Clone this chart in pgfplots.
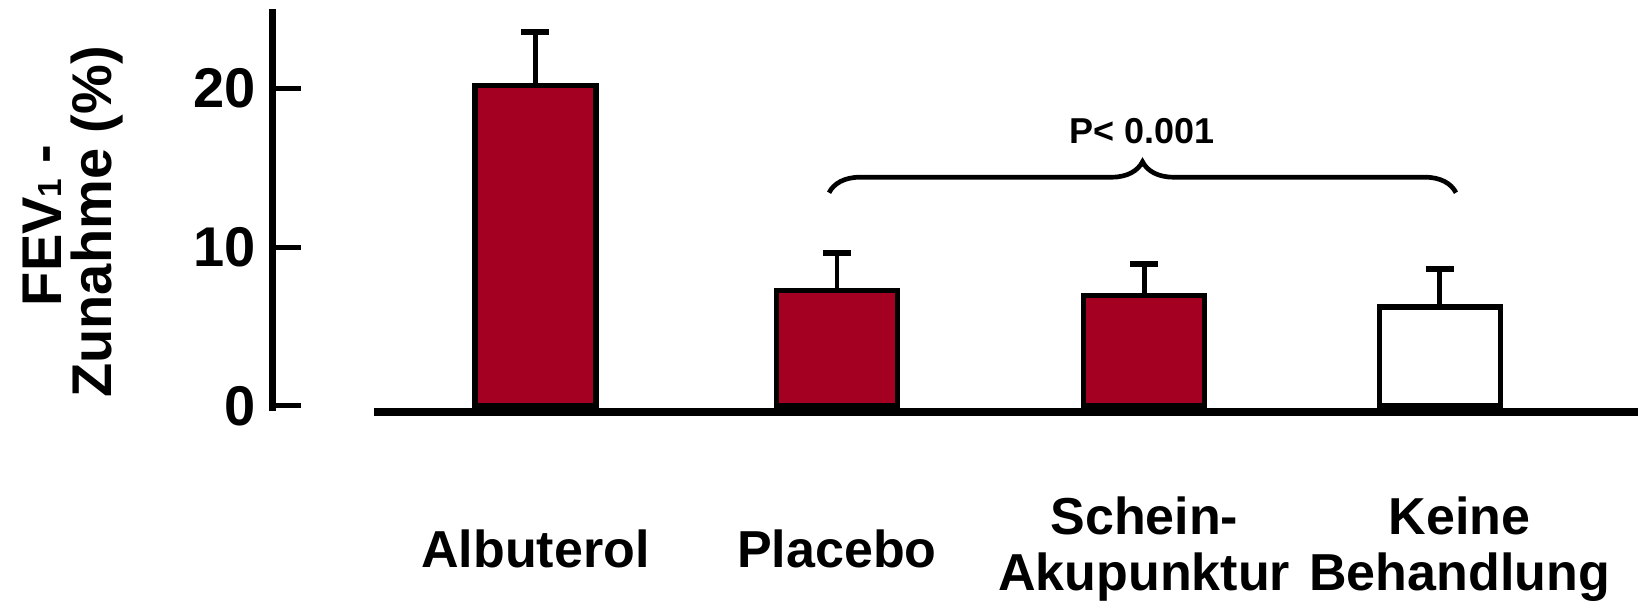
\documentclass[border=0pt]{standalone}
\usepackage{pgfplots}
\pgfplotsset{compat=1.18}
\usepackage{fontspec}
\setmainfont{Liberation Sans}
\usetikzlibrary{decorations.pathreplacing}

\definecolor{barred}{HTML}{A40021}

\begin{document}
\begin{tikzpicture}
  \begin{axis}[
    at={(0,0)}, anchor=south west,
    scale only axis,
    width=409.6pt, height=120.4pt,
    clip=false,
    xmin=-0.872, xmax=3.658,
    ymin=-0.3, ymax=25,
    axis y line=left,
    axis x line=bottom,
    axis line style={-, line width=2.1pt},
    x axis line style={draw=none},
    ytick={0,10,20},
    xtick={0,1,2.02,3.066},
    xticklabels={Albuterol, Placebo, {Schein-\\Akupunktur}, {Keine\\Behandlung}},
    xtick style={draw=none},
    x tick label style={anchor=center, align=center, yshift=-33.1pt,
      font=\fontsize{15.6}{16.6}\selectfont\bfseries},
    y tick label style={xshift=-1.6pt, font=\fontsize{16.8}{18}\selectfont\bfseries},
    ytick style={line width=1.5pt, black},
    tick align=inside,
    major tick length=8.4pt,
    /pgf/number format/assume math mode=true,
    ybar, bar width=0.4015, bar shift=0pt,
  ]
    % mean FEV1 increase with upper error bar
    \addplot[fill=barred, draw=black, line width=1.6pt,
      error bars/.cd, y dir=plus, y explicit,
      error bar style={line width=1.4pt},
      error mark options={rotate=90, line width=1.8pt, mark size=4.2pt}]
      coordinates {
        (0,20.2) +- (0,3.4)
        (1,7.27) +- (0,2.4)
        (2.02,6.95) +- (0,2.0)
      };
    \addplot[fill=white, draw=black, line width=1.6pt,
      error bars/.cd, y dir=plus, y explicit,
      error bar style={line width=1.4pt},
      error mark options={rotate=90, line width=1.8pt, mark size=4.2pt}]
      coordinates {
        (3,6.23) +- (0,2.4)
      };
    \draw[line width=2.4pt] (axis cs:-0.536,-0.38) -- (axis cs:3.66,-0.38);
    \draw[line width=1.4pt, decorate, decoration={brace, amplitude=9.3pt}]
      (axis cs:0.974,13.44) -- (axis cs:3.054,13.44);
    \node[font=\fontsize{10.8}{13}\selectfont\bfseries] at (axis cs:2.012,17.3) {P< 0.001};
  \end{axis}
  \node[rotate=90, align=center, font=\fontsize{16.8}{15}\selectfont\bfseries]
    at (-60pt,56.6pt) {FEV{\fontsize{10}{10}\selectfont 1} -\hspace*{2pt}\\Zunahme (\%)};
  \pgfresetboundingbox
  \path[use as bounding box] (-81.8pt,-58.6pt) rectangle (409.6pt,123.2pt);
\end{tikzpicture}
\end{document}
